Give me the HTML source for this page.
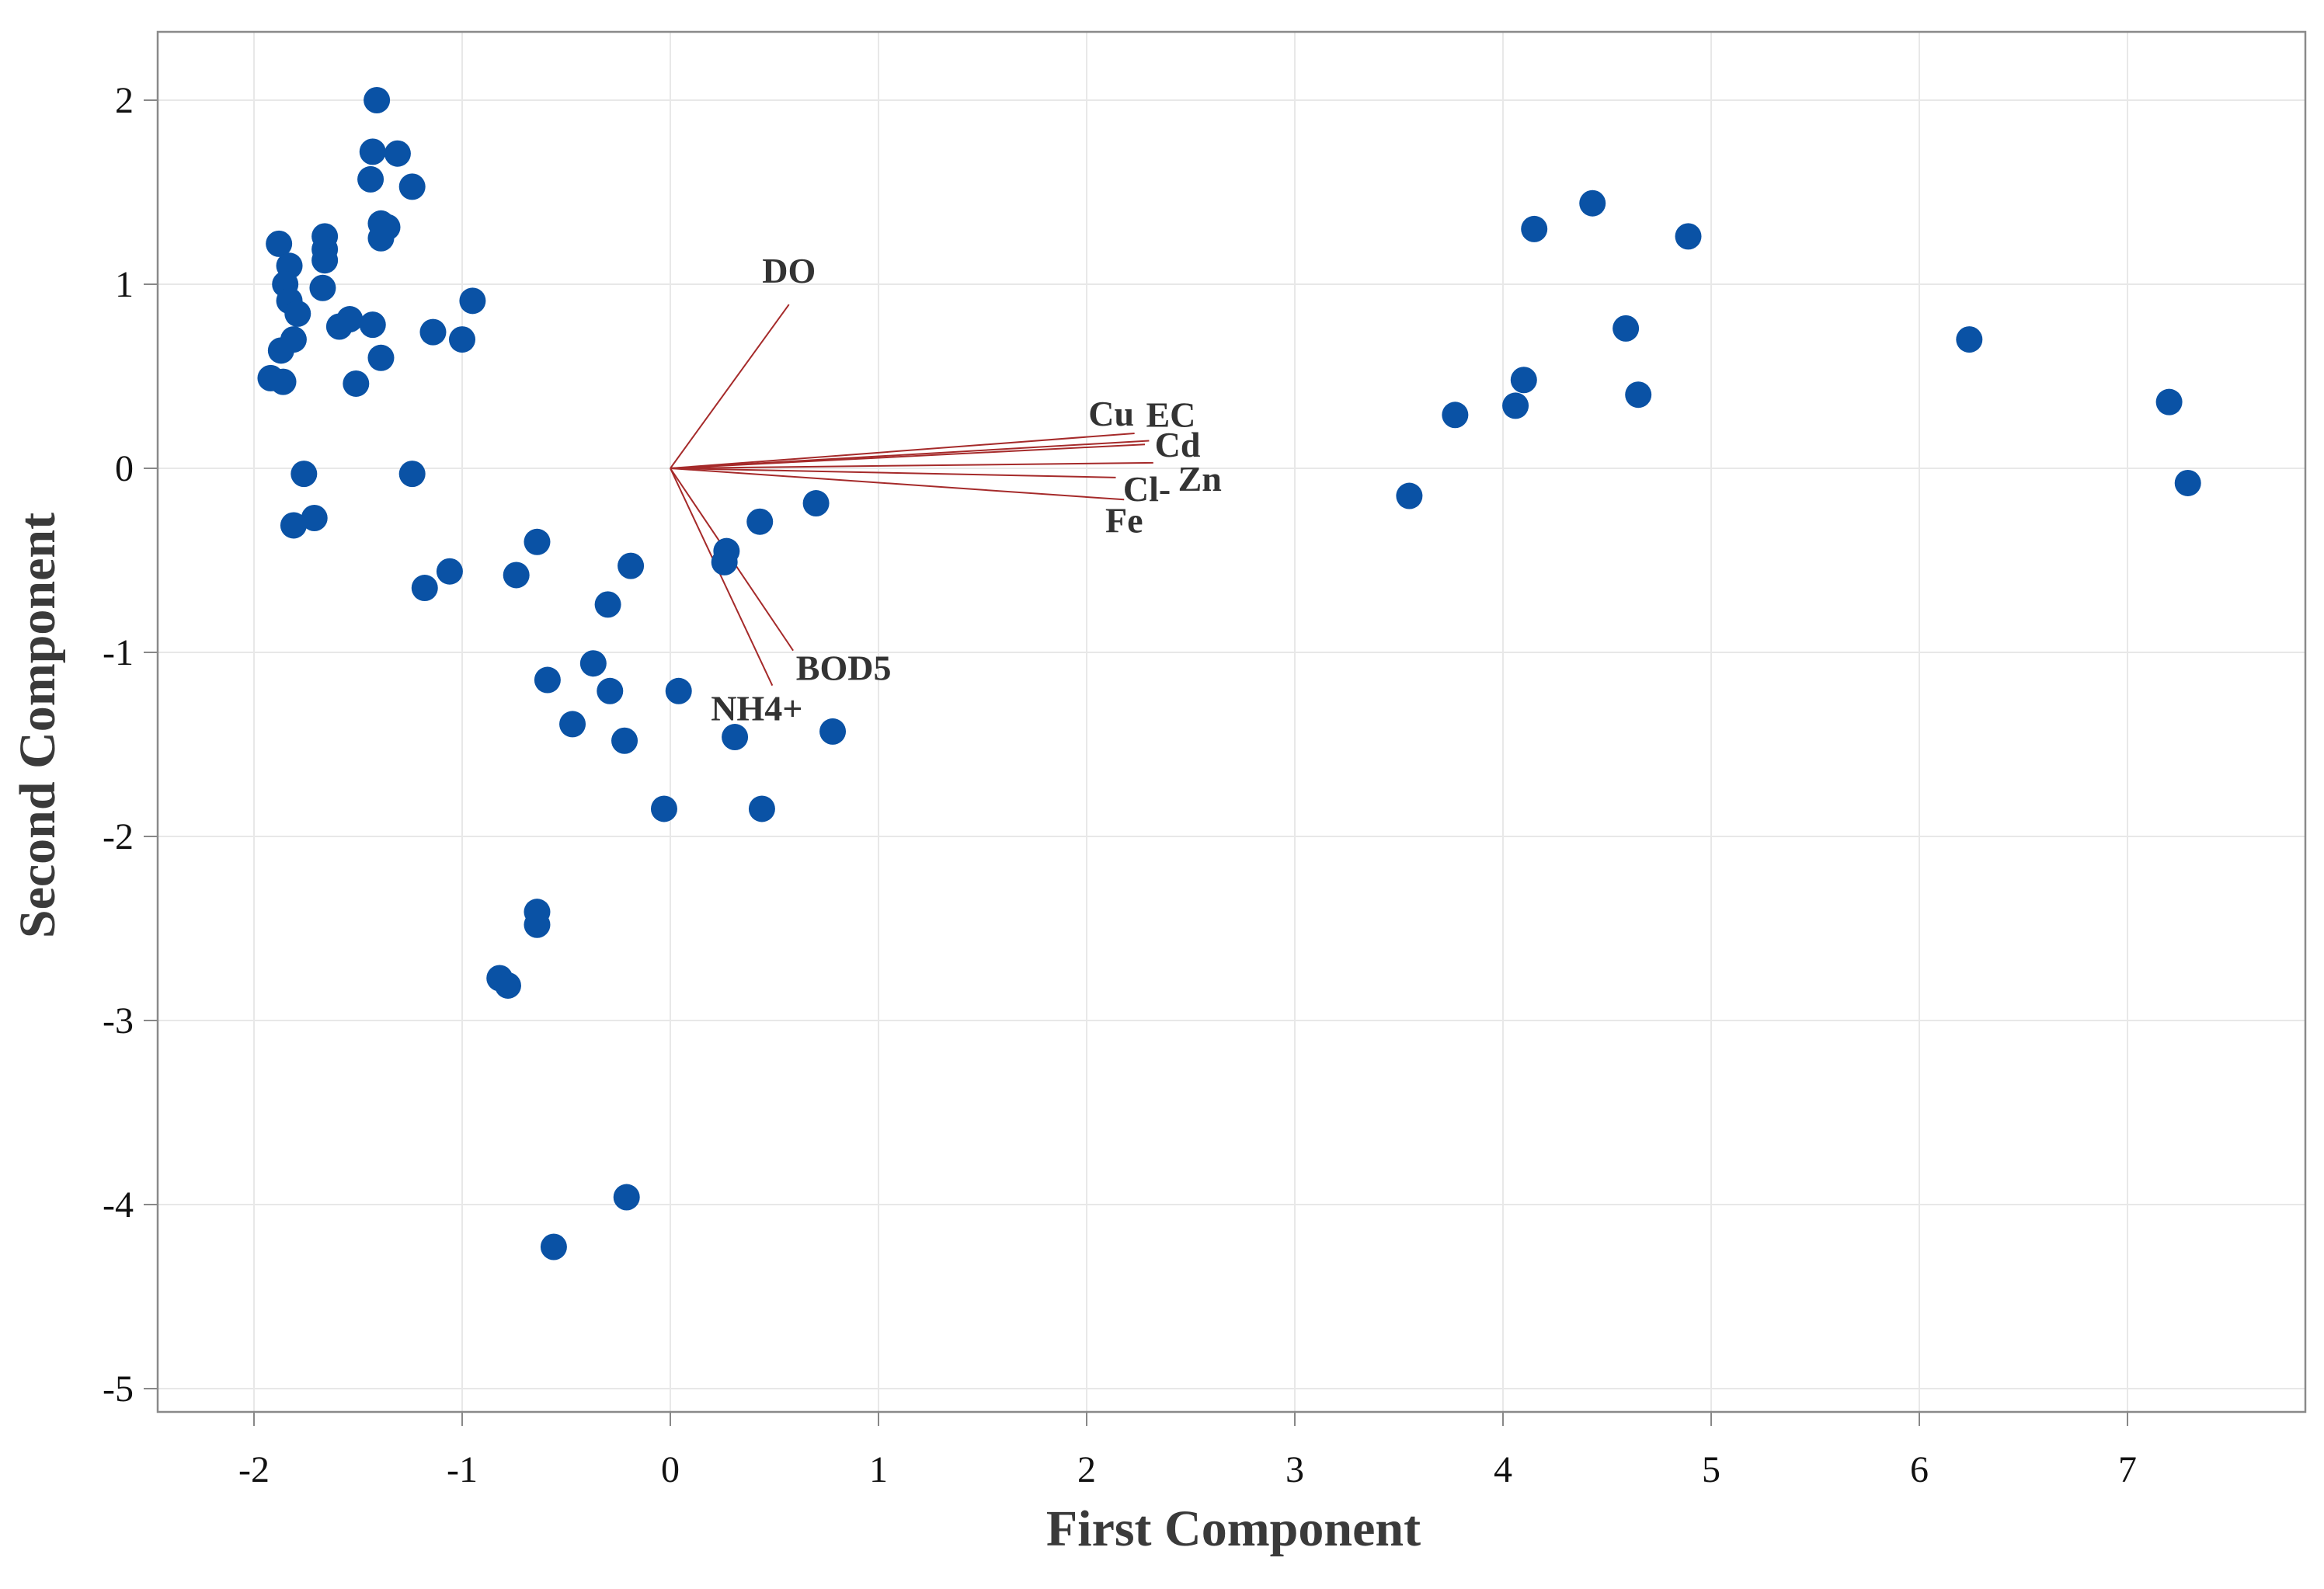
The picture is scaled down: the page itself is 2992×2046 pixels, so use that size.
<!DOCTYPE html>
<html><head><meta charset="utf-8"><style>
html,body{margin:0;padding:0;background:#fff}
svg{display:block}
text{font-family:"Liberation Serif","DejaVu Serif",serif}
</style></head><body>
<svg id="chart" width="2992" height="2046" viewBox="0 0 2992 2046" xmlns="http://www.w3.org/2000/svg">
<rect width="2992" height="2046" fill="#fff"/>
<g id="grid"></g>
<g id="axes"></g>
<g id="loadings"></g>
<g id="points"></g>
<text x="1588" y="1990" font-size="66" font-weight="bold" fill="#3a3a3a" text-anchor="middle">First Component</text>
<text transform="translate(70,934) rotate(-90)" font-size="66" font-weight="bold" fill="#3a3a3a" text-anchor="middle">Second Component</text>
</svg>
<script>
const xTicks = [-2,-1,0,1,2,3,4,5,6,7];
const yTicks = [2,1,0,-1,-2,-3,-4,-5];
const scoreX = [-1.41,-1.43,-1.31,-1.44,-1.24,-1.39,-1.36,-1.39,-1.66,-1.66,-1.66,-1.67,-1.88,-1.83,-1.85,-1.83,-1.79,-1.81,-1.87,-1.92,-1.86,-1.54,-1.59,-1.43,-1.39,-1.51,-1.14,-1.0,-0.95,-1.76,-1.24,-1.71,-1.81,-1.18,-1.06,-0.74,-0.64,-0.30,-0.19,-0.37,-0.59,-0.29,-0.47,-0.22,0.04,0.27,0.26,0.43,0.70,0.31,0.78,-0.03,0.44,-0.64,-0.64,-0.82,-0.78,-0.21,-0.56,4.15,4.43,4.89,4.59,4.10,4.06,3.77,4.65,3.55,6.24,7.20,7.29];
const scoreY = [2.0,1.72,1.71,1.57,1.53,1.33,1.31,1.25,1.26,1.19,1.13,0.98,1.22,1.10,1.0,0.91,0.84,0.70,0.64,0.49,0.47,0.81,0.77,0.78,0.60,0.46,0.74,0.70,0.91,-0.03,-0.03,-0.27,-0.31,-0.65,-0.56,-0.58,-0.40,-0.74,-0.53,-1.06,-1.15,-1.21,-1.39,-1.48,-1.21,-0.45,-0.51,-0.29,-0.19,-1.46,-1.43,-1.85,-1.85,-2.41,-2.48,-2.77,-2.81,-3.96,-4.23,1.30,1.44,1.26,0.76,0.48,0.34,0.29,0.40,-0.15,0.70,0.36,-0.08];
const loadNames = ["DO","Cu","EC","Cd","Zn","Cl-","Fe","BOD5","NH4+"];
const loadX = [0.57,2.23,2.30,2.28,2.32,2.14,2.18,0.59,0.49];
const loadY = [0.89,0.19,0.15,0.13,0.03,-0.05,-0.17,-0.99,-1.18];

const NS="http://www.w3.org/2000/svg";
const L=203,T=41,R=2968,B=1818;
function sx(v){return 863+268*v;}
function sy(v){return 603-237*v;}
function mk(tag,attrs,parent){const e=document.createElementNS(NS,tag);for(const k in attrs)e.setAttribute(k,attrs[k]);parent.appendChild(e);return e;}
const grid=document.getElementById('grid'),axes=document.getElementById('axes'),lg=document.getElementById('loadings'),pg=document.getElementById('points');
xTicks.forEach(v=>{
  const x=sx(v);
  const g=mk('line',{x1:x,x2:x,y1:T,y2:B,stroke:'#e8e8e8','stroke-width':2},grid);
  
  
  const tk=mk('line',{x1:x,x2:x,y1:B,y2:B+18,stroke:'#888','stroke-width':2},axes);
  
  
  const t=mk('text',{x:x,y:1908,'font-size':48,'text-anchor':'middle',fill:'#111'},axes);
  t.textContent=v;
  
  
});
yTicks.forEach(v=>{
  const y=sy(v);
  const g=mk('line',{x1:L,x2:R,y1:y,y2:y,stroke:'#e8e8e8','stroke-width':2},grid);
  
  
  const tk=mk('line',{x1:L-18,x2:L,y1:y,y2:y,stroke:'#888','stroke-width':2},axes);
  
  
  const t=mk('text',{x:172,y:y+16,'font-size':48,'text-anchor':'end',fill:'#111'},axes);
  t.textContent=v;
  
  
});
const frame=mk('rect',{x:L,y:T,width:R-L,height:B-T,fill:'none',stroke:'#8a8a8a','stroke-width':2.5},axes);


const labelOff={"DO":[0,-28],"Cu":[-30,-10],"EC":[28,-18],"Cd":[42,16],"Zn":[60,36],"Cl-":[40,30],"Fe":[0,42],"BOD5":[65,38],"NH4+":[-20,45]};
loadNames.forEach((n,i)=>{
  const x=sx(loadX[i]),y=sy(loadY[i]);
  const l=mk('line',{x1:sx(0),y1:sy(0),x2:x,y2:y,stroke:'#a52a2a','stroke-width':2},lg);
  
  
  const o=labelOff[n]||[0,0];
  const t=mk('text',{x:x+o[0],y:y+o[1],'font-size':46,'font-weight':'bold','text-anchor':'middle',fill:'#333'},lg);
  t.textContent=n;
  
  
});
scoreX.forEach((v,i)=>{
  const c=mk('circle',{cx:sx(v),cy:sy(scoreY[i]),r:17,fill:'#0a52a5'},pg);
  
  
});
</script>
</body></html>
